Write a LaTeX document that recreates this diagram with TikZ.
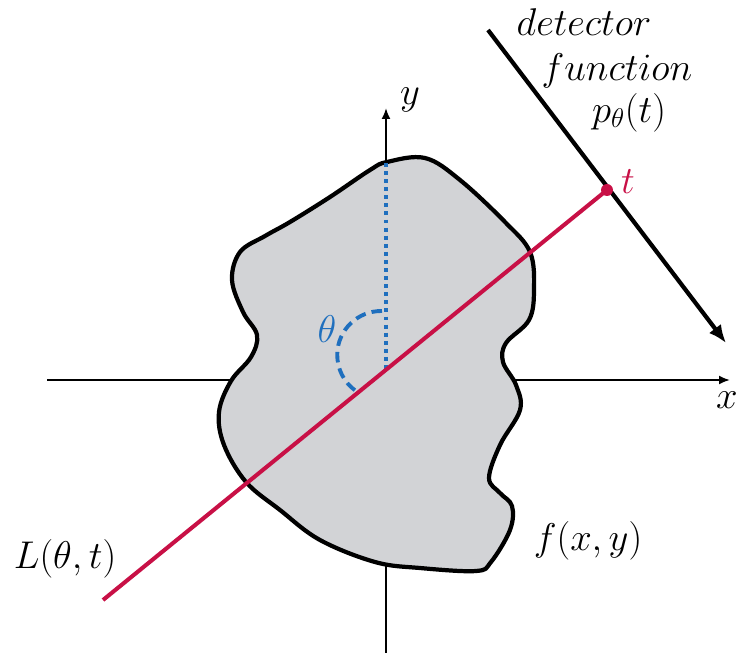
\RequirePackage{fix-cm}
\documentclass[tikz,border=0pt]{standalone}
\usetikzlibrary{arrows.meta}

\definecolor{rayred}{RGB}{200,16,70}
\definecolor{angblue}{RGB}{31,111,190}
\definecolor{blobgrey}{RGB}{210,211,214}

\begin{document}
\begin{tikzpicture}[
  x=0.02cm, y=-0.02cm,
  every node/.style={font=\fontsize{22}{26}\selectfont, inner sep=0pt},
  axis/.style={line width=1.1pt, -{Latex[length=2.2mm, width=1.8mm]}},
  blob/.style={draw=black, line width=2.4pt, fill=blobgrey},
  ray/.style={draw=rayred, line width=2.3pt},
  detector/.style={line width=2.4pt, -{Latex[length=3.6mm, width=3mm]}},
  vert/.style={draw=angblue, line width=2.2pt, dash pattern=on 2.2pt off 2.4pt},
  angarc/.style={draw=angblue, line width=2.2pt, dash pattern=on 6pt off 3.5pt}
]
\useasboundingbox (0,0) rectangle (739,652);

% axes (behind the object)
\coordinate (xa) at (47,380);
\coordinate (xb) at (730,380);
\coordinate (ya) at (386,660);
\coordinate (yb) at (386,108);
\draw[axis] (xa) -- (xb);
\draw[axis] (ya) -- (yb);
\node[anchor=base east] (xlab) at (738,408) {$x$};
\node[anchor=base] (ylab) at (410,104) {$y$};

% object f(x,y)
\draw[blob] plot[smooth cycle, tension=0.6] coordinates {
  (387,162) (425,158) (460,180) (505,222) (530,252) (534,290) (529,320)
  (506,343) (503,362) (516,385) (520,410) (500,445) (489,478) (500,493)
  (512,506) (510,530) (491,562) (476,571) (420,568) (375,562) (320,540)
  (280,510) (246,482) (224,445) (219,412) (231,381) (251,357) (257,335)
  (243,312) (232,280) (240,252) (265,236) (290,222) (330,197) (370,170)};
\node[anchor=base] (flab) at (588,550) {$f(x,y)$};

% angle theta
\coordinate (top) at (386,163);
\coordinate (foot) at (386,369);
\draw[vert] (top) -- (foot);
\draw[angarc] (382,311) arc[start angle=-89, end angle=-234, radius=44];
\node[anchor=base, text=angblue] (thlab) at (327,342) {$\theta$};

% detector
\coordinate (da) at (488,30);
\coordinate (db) at (726,343);
\draw[detector] (da) -- (db);
\node[anchor=base] (det) at (584,36) {$detector$};
\node[anchor=base] (func) at (617,80) {$function$};
\node[anchor=base] (ptheta) at (629,122) {$p_\theta(t)$};

% line L(theta,t)
\coordinate (ra) at (103,600);
\coordinate (tpt) at (607,190);
\draw[ray] (ra) -- (tpt);
\fill[rayred] (tpt) circle (3.4pt);
\node[anchor=base, text=rayred] (tlab) at (628,193) {$t$};
\node[anchor=base] (llab) at (65,568) {$L(\theta,t)$};
\end{tikzpicture}
\end{document}
